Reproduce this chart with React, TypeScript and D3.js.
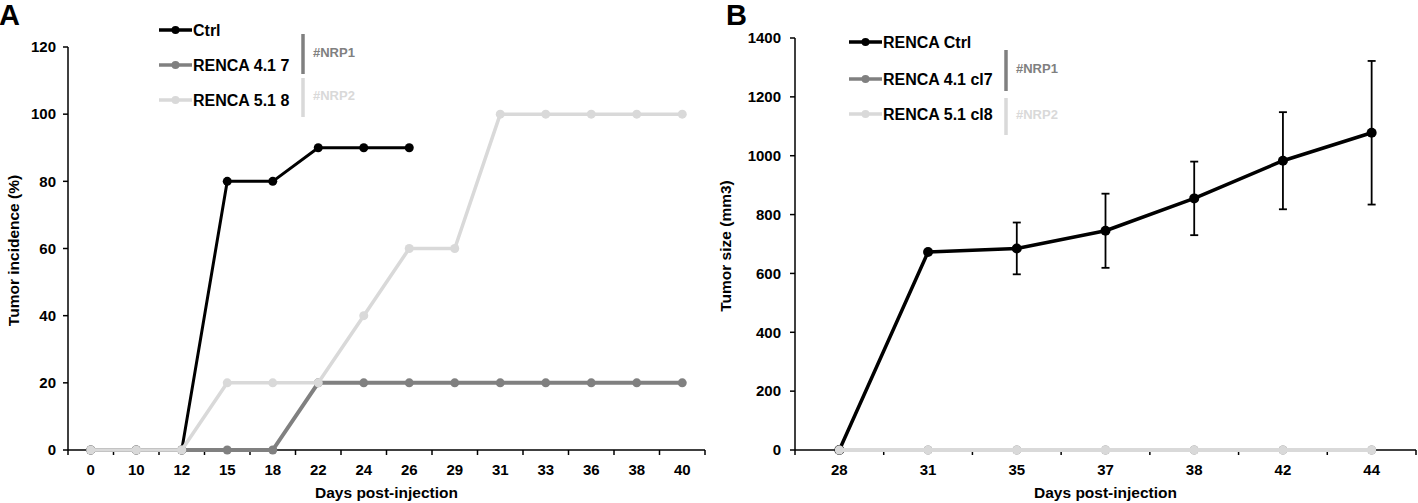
import React from "react";
import * as d3 from "d3";

const daysA = ["0", "10", "12", "15", "18", "22", "24", "26", "29", "31", "33", "36", "38", "40"];
const ctrlA = [0, 0, 0, 80, 80, 90, 90, 90];
const nrp1A = [0, 0, 0, 0, 0, 20, 20, 20, 20, 20, 20, 20, 20, 20];
const nrp2A = [0, 0, 0, 20, 20, 20, 40, 60, 60, 100, 100, 100, 100, 100];
const ticksA = [0, 20, 40, 60, 80, 100, 120];

const daysB = ["28", "31", "35", "37", "38", "42", "44"];
const ctrlB = [0, 673, 685, 745, 855, 983, 1078];
const ctrlBErr = [0, 0, 88, 126, 125, 165, 244];
const nrp1B = [0, 0, 0, 0, 0, 0, 0];
const nrp2B = [0, 0, 0, 0, 0, 0, 0];
const ticksB = [0, 200, 400, 600, 800, 1000, 1200, 1400];

const legendA = ["Ctrl", "RENCA 4.1 7", "RENCA 5.1 8"];
const legendB = ["RENCA Ctrl", "RENCA 4.1 cl7", "RENCA 5.1 cl8"];
const groupLabels = ["#NRP1", "#NRP2"];

const BLACK = "#000000";
const GREY = "#808080";
const LIGHT = "#d9d9d9";
const FONT = "'Liberation Sans', Arial, sans-serif";

type Series = { values: number[]; color: string; width: number; r: number; err?: number[] };

function Panel(props: {
  x0: number; x1: number; y0: number; y1: number;
  cats: string[]; ticks: number[]; ymax: number;
  series: Series[]; ytitle: string; ytitleX: number; tickLabelX: number;
  letter: string; letterX: number;
  legend: string[]; legX: number; legY: number[]; barX: number; bar1: [number, number]; bar2: [number, number];
}) {
  const p = props;
  const x = d3.scaleBand<string>().domain(p.cats).range([p.x0, p.x1]).paddingInner(0).paddingOuter(0);
  const y = d3.scaleLinear().domain([0, p.ymax]).range([p.y0, p.y1]);
  const cx = (i: number) => (x(p.cats[i]) as number) + x.bandwidth() / 2;
  const line = d3.line<number>().x((_, i) => cx(i)).y((v) => y(v));
  const colors = [BLACK, GREY, LIGHT];
  return (
    <g>
      <text x={p.letterX} y={25} fontFamily={FONT} fontWeight="bold" fontSize={29}>{p.letter}</text>
      {/* y axis */}
      <line x1={p.x0} x2={p.x0} y1={y(0)} y2={y(p.ymax)} stroke="#000" strokeWidth={1.5} />
      {p.ticks.map((t) => (
        <g key={t}>
          <line x1={p.x0 - 5} x2={p.x0} y1={y(t)} y2={y(t)} stroke="#000" strokeWidth={1.5} />
          <text x={p.tickLabelX} y={y(t)} dy="0.35em" textAnchor="end" fontFamily={FONT} fontWeight="bold" fontSize={15}>{t}</text>
        </g>
      ))}
      {/* x axis */}
      <line x1={p.x0} x2={p.x1} y1={p.y0} y2={p.y0} stroke="#000" strokeWidth={1.5} />
      {p.cats.map((c, i) => (
        <g key={c}>
          <line x1={(x(c) as number) + x.bandwidth()} x2={(x(c) as number) + x.bandwidth()} y1={p.y0} y2={p.y0 + 5} stroke="#000" strokeWidth={1.5} />
          <text x={cx(i)} y={p.y0 + 20} dy="0.35em" textAnchor="middle" fontFamily={FONT} fontWeight="bold" fontSize={15}>{c}</text>
        </g>
      ))}
      <line x1={p.x0} x2={p.x0} y1={p.y0} y2={p.y0 + 5} stroke="#000" strokeWidth={1.5} />
      <text x={(p.x0 + p.x1) / 2} y={493} dy="0.35em" textAnchor="middle" fontFamily={FONT} fontWeight="bold" fontSize={15.5}>Days post-injection</text>
      <text transform={`translate(${p.ytitleX},${(y(0) + y(p.ymax)) / 2 + 2}) rotate(-90)`} dy="0.35em" textAnchor="middle" fontFamily={FONT} fontWeight="bold" fontSize={15.5}>{p.ytitle}</text>
      {/* series */}
      {p.series.map((s, si) => (
        <g key={si}>
          <path d={line(s.values) || ""} fill="none" stroke={s.color} strokeWidth={s.width} strokeLinejoin="round" />
          {s.err && s.err.map((e, i) => e > 0 ? (
            <g key={"e" + i}>
              <line x1={cx(i)} x2={cx(i)} y1={y(s.values[i] - e)} y2={y(s.values[i] + e)} stroke="#000" strokeWidth={1.8} />
              <line x1={cx(i) - 4} x2={cx(i) + 4} y1={y(s.values[i] - e)} y2={y(s.values[i] - e)} stroke="#000" strokeWidth={1.8} />
              <line x1={cx(i) - 4} x2={cx(i) + 4} y1={y(s.values[i] + e)} y2={y(s.values[i] + e)} stroke="#000" strokeWidth={1.8} />
            </g>
          ) : null)}
          {s.values.map((v, i) => (
            <circle key={i} cx={cx(i)} cy={y(v)} r={s.r} fill={s.color} />
          ))}
        </g>
      ))}
      {/* legend */}
      {p.legend.map((l, i) => (
        <g key={l}>
          <line x1={p.legX} x2={p.legX + 33} y1={p.legY[i]} y2={p.legY[i]} stroke={colors[i]} strokeWidth={3.5} />
          <circle cx={p.legX + 16.5} cy={p.legY[i]} r={4} fill={colors[i]} />
          <text x={p.legX + 34} y={p.legY[i]} dy="0.35em" fontFamily={FONT} fontWeight="bold" fontSize={16}>{l}</text>
        </g>
      ))}
      <line x1={p.barX} x2={p.barX} y1={p.bar1[0]} y2={p.bar1[1]} stroke={GREY} strokeWidth={3.5} />
      <line x1={p.barX} x2={p.barX} y1={p.bar2[0]} y2={p.bar2[1]} stroke={LIGHT} strokeWidth={3.5} />
      <text x={p.barX + 10} y={(p.bar1[0] + p.bar1[1]) / 2 - 2} dy="0.35em" fontFamily={FONT} fontWeight="bold" fontSize={13} fill={GREY}>{groupLabels[0]}</text>
      <text x={p.barX + 10} y={(p.bar2[0] + p.bar2[1]) / 2 - 2} dy="0.35em" fontFamily={FONT} fontWeight="bold" fontSize={13} fill={LIGHT}>{groupLabels[1]}</text>
    </g>
  );
}

export default function App() {
  return (
    <svg width={1418} height={503} style={{ position: "absolute", left: 0, top: 0, background: "#fff" }}>
      <rect width={1418} height={503} fill="#fff" />
      <Panel
        x0={68} x1={705} y0={450} y1={47} cats={daysA} ticks={ticksA} ymax={120}
        series={[
          { values: ctrlA, color: BLACK, width: 3, r: 4.5 },
          { values: nrp1A, color: GREY, width: 4, r: 4.5 },
          { values: nrp2A, color: LIGHT, width: 3.5, r: 4.5 },
        ]}
        ytitle="Tumor incidence (%)" ytitleX={14} tickLabelX={56}
        letter="A" letterX={-1}
        legend={legendA} legX={159} legY={[30, 65, 100]}
        barX={303} bar1={[34, 74]} bar2={[78, 117]}
      />
      <Panel
        x0={795} x1={1416} y0={450} y1={38} cats={daysB} ticks={ticksB} ymax={1400}
        series={[
          { values: ctrlB, color: BLACK, width: 3.5, r: 5, err: ctrlBErr },
          { values: nrp1B, color: GREY, width: 4, r: 4.5 },
          { values: nrp2B, color: LIGHT, width: 4, r: 4.5 },
        ]}
        ytitle="Tumor size (mm3)" ytitleX={726} tickLabelX={781}
        letter="B" letterX={726}
        legend={legendB} legX={849} legY={[42, 79, 114]}
        barX={1006} bar1={[50, 91]} bar2={[98, 135]}
      />
    </svg>
  );
}
